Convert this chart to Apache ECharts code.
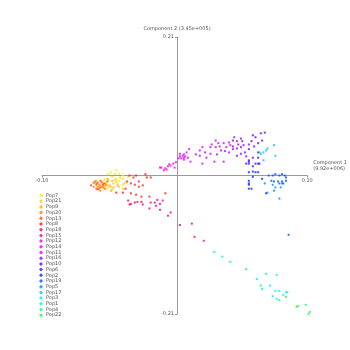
<!DOCTYPE html>
<html><head><meta charset="utf-8">
<script src="https://cdn.jsdelivr.net/npm/echarts@6/dist/echarts.min.js"></script>
<style>html,body{margin:0;padding:0;background:#fff}#c{width:350px;height:350px}</style>
</head><body><div id="c"></div>
<script>
const popNames = ['Pop7','Pop21','Pop9','Pop20','Pop13','Pop8','Pop18','Pop15','Pop12','Pop14','Pop11','Pop16','Pop10','Pop6','Pop2','Pop19','Pop5','Pop17','Pop3','Pop1','Pop4','Pop22'];
const popColors = ['#ffee00','#ffcc00','#ffaa00','#ff7a00','#ff4a00','#ff1a1a','#ff0055','#ff0099','#ff00dd','#e600ff','#cc00ff','#9900ff','#6a00ff','#3a10ff','#0a28ff','#0055ff','#0088ff','#00c0ff','#00f0ff','#00ffcc','#00ff99','#22ff44'];
const xTicks = [-0.10, 0.10];
const yTicks = [-0.21, 0.21];

const Pop7 = [[-0.048,0.005],[-0.045,0.002],[-0.042,0.003],[-0.039,0],[-0.044,-0.005],[-0.042,-0.008],[-0.039,-0.005],[-0.047,-0.002],[-0.050,0.002],[-0.036,-0.011],[-0.043,-0.012],[-0.039,-0.014],[-0.051,-0.005],[-0.044,0.008],[-0.035,-0.002]];
const Pop21 = [[-0.053,-0.006],[-0.050,-0.009],[-0.046,-0.012],[-0.042,-0.017],[-0.048,-0.017],[-0.051,-0.014],[-0.044,-0.009],[-0.039,-0.020],[-0.047,-0.021],[-0.054,-0.012],[-0.041,-0.003],[-0.045,-0.006],[-0.038,-0.012],[-0.050,-0.018],[-0.053,-0.017]];
const Pop9 = [[-0.055,-0.009],[-0.052,-0.012],[-0.049,-0.015],[-0.047,-0.008],[-0.050,-0.006],[-0.057,-0.014],[-0.046,-0.018],[-0.052,-0.020],[-0.043,-0.015],[-0.055,-0.018],[-0.048,-0.023],[-0.059,-0.008]];
const Pop20 = [[-0.059,-0.012],[-0.056,-0.015],[-0.054,-0.017],[-0.057,-0.020],[-0.060,-0.009],[-0.055,-0.011],[-0.052,-0.015],[-0.058,-0.017],[-0.056,-0.023],[-0.053,-0.020],[-0.061,-0.017],[-0.051,-0.009]];
const Pop13 = [[-0.063,-0.015],[-0.059,-0.014],[-0.058,-0.011],[-0.056,-0.018],[-0.059,-0.020],[-0.054,-0.014],[-0.058,-0.021],[-0.061,-0.011],[-0.053,-0.012],[-0.056,-0.008]];
const Pop8 = [[-0.034,0],[-0.031,-0.003],[-0.029,0],[-0.033,-0.012],[-0.027,-0.009],[-0.027,-0.017],[-0.022,0.002],[-0.021,-0.003],[-0.037,-0.020],[-0.039,-0.026],[-0.044,-0.026],[-0.033,-0.027],[-0.029,-0.029],[-0.025,-0.032],[-0.019,-0.032],[-0.007,-0.027],[-0.030,-0.014],[-0.024,-0.015],[-0.036,-0.009],[-0.018,-0.003]];
const Pop18 = [[-0.035,-0.038],[-0.030,-0.041],[-0.033,-0.043],[-0.028,-0.040],[-0.025,-0.040],[-0.034,-0.044],[-0.024,-0.044],[-0.018,-0.041],[-0.015,-0.041],[-0.005,-0.061],[-0.003,-0.056],[0.004,-0.075],[0.013,-0.073],[-0.019,-0.050],[-0.013,-0.037]];
const Pop15 = [[-0.011,-0.043],[-0.014,-0.046],[-0.011,-0.052],[0.015,-0.093],[0.022,-0.099],[-0.009,-0.038]];
const Pop12 = [[-0.011,0.012],[-0.010,0.012],[-0.006,0.009],[-0.003,0.015],[-0.005,0.014],[0,0.012],[-0.001,0.018],[-0.008,0.008],[-0.004,0.017],[-0.007,0.011]];
const Pop14 = [[0.004,0.033],[0.006,0.030],[0.007,0.032],[0.008,0.029],[0.007,0.027],[0.005,0.026],[0.001,0.020],[0.007,0.024],[0.011,0.040],[0.012,0.021],[0.009,0.035],[0.003,0.026],[0.010,0.027],[0.004,0.029]];
const Pop11 = [[0.019,0.038],[0.019,0.030],[0.021,0.018],[0.023,0.035],[0.027,0.043],[0.028,0.047],[0.027,0.033],[0.031,0.043],[0.030,0.021],[0.033,0.049],[0.034,0.044],[0.032,0.032],[0.037,0.049],[0.039,0.043],[0.041,0.050],[0.042,0.046],[0.038,0.037],[0.041,0.035],[0.037,0.021],[0.024,0.027],[0.016,0.032],[0.035,0.038],[0.044,0.040],[0.031,0.053],[0.021,0.043]];
const Pop16 = [[0.045,0.058],[0.047,0.052],[0.050,0.056],[0.048,0.047],[0.044,0.044],[0.047,0.041],[0.050,0.043],[0.052,0.046],[0.056,0.047],[0.050,0.033],[0.047,0.030],[0.053,0.035],[0.054,0.029],[0.044,0.053],[0.051,0.052]];
const Pop10 = [[0.059,0.061],[0.061,0.058],[0.065,0.064],[0.068,0.065],[0.063,0.049],[0.056,0.040],[0.056,0.023],[0.063,0.035],[0.059,0.027],[0.058,0.052],[0.066,0.053],[0.060,0.044]];
const Pop6 = [[0.054,0.018],[0.056,0.018],[0.061,0.018],[0.064,0.018],[0.063,0.027],[0.056,0.021],[0.063,0.018],[0.059,0.014]];
const Pop2 = [[0.059,0.006],[0.061,0.005],[0.056,-0.008],[0.056,-0.012],[0.058,-0.020],[0.056,0.005],[0.059,-0.002],[0.063,0.005],[0.056,-0.014],[0.056,-0.020],[0.069,-0.027],[0.066,-0.005]];
const Pop19 = [[0.071,0],[0.074,0],[0.076,0.002],[0.079,0],[0.081,0.002],[0.083,0],[0.084,-0.003],[0.075,-0.009],[0.078,-0.009],[0.079,-0.012],[0.081,-0.009],[0.082,-0.012],[0.084,-0.008],[0.086,-0.090],[0.073,-0.008]];
const Pop5 = [[0.076,-0.018],[0.080,-0.018],[0.081,-0.012],[0.079,-0.035],[0.068,-0.012],[0.074,-0.014],[0.070,-0.026],[0.075,-0.023]];
const Pop17 = [[0.064,0.035],[0.065,0.033],[0.067,0.035],[0.070,0.041],[0.075,0.046],[0.067,0.023],[0.076,0.030],[0.069,0.038]];
const Pop3 = [[0.077,-0.151],[0.062,-0.157],[0.066,-0.172],[0.072,-0.167],[0.079,-0.175],[0.084,-0.177],[0.085,-0.177],[0.074,-0.183],[0.077,-0.187]];
const Pop1 = [[0.079,-0.189],[0.082,-0.181],[0.076,-0.175]];
const Pop4 = [[0.030,-0.116],[0.036,-0.123],[0.042,-0.131],[0.054,-0.142],[0.069,-0.149],[0.065,-0.167]];
const Pop22 = [[0.084,-0.184],[0.093,-0.198],[0.092,-0.199],[0.099,-0.196],[0.102,-0.207],[0.101,-0.210]];

const popData = [Pop7,Pop21,Pop9,Pop20,Pop13,Pop8,Pop18,Pop15,Pop12,Pop14,Pop11,Pop16,Pop10,Pop6,Pop2,Pop19,Pop5,Pop17,Pop3,Pop1,Pop4,Pop22];

const gridL = 42, gridR = 38, gridT = 37, gridB = 36;
const W = 350, H = 350;
const gw = W - gridL - gridR, gh = H - gridT - gridB;
const xMin = -0.10, xMax = 0.10, yMin = -0.21, yMax = 0.21;
// offsets so the axes pass through zero
const yAxisOffset = -gw * (0 - xMin) / (xMax - xMin);
const xAxisOffset = -gh * (0 - yMin) / (yMax - yMin);

const chart = echarts.init(document.getElementById('c'), null, {renderer:'canvas'});
const lbl = {color:'#555', fontSize:5, fontFamily:'DejaVu Sans', formatter:v=>v.toFixed(2), margin:3};
chart.setOption({
  animation:false,
  backgroundColor:'#fff',
  grid:{left:gridL, right:gridR, top:gridT, bottom:gridB},
  xAxis:{
    type:'value', min:xMin, max:xMax, position:'bottom', offset:xAxisOffset,
    axisLine:{onZero:false, lineStyle:{color:'#999', width:1}},
    splitLine:{show:false},
    name:'Component 1\n(9.92e+006)', nameLocation:'end', nameGap:6,
    nameTextStyle:{color:'#555', fontSize:5, fontFamily:'DejaVu Sans', align:'left', verticalAlign:'bottom', lineHeight:6, padding:[0,0,4,0]},
    axisTick:{show:true, length:2, lineStyle:{color:'#999'}, customValues:xTicks},
    axisLabel:Object.assign({}, lbl, {customValues:xTicks})
  },
  yAxis:{
    type:'value', min:yMin, max:yMax, position:'left', offset:yAxisOffset,
    axisLine:{onZero:false, lineStyle:{color:'#999', width:1}},
    splitLine:{show:false},
    name:'Component 2 (3.45e+005)', nameLocation:'end', nameGap:6,
    nameTextStyle:{color:'#555', fontSize:5, fontFamily:'DejaVu Sans', align:'center'},
    axisTick:{show:true, length:2, lineStyle:{color:'#999'}, customValues:yTicks},
    axisLabel:Object.assign({}, lbl, {customValues:yTicks})
  },
  legend:{
    orient:'vertical', left:34, top:188, itemWidth:4, itemHeight:4, itemGap:0.7,
    icon:'diamond',
    textStyle:{color:'#555', fontSize:5, lineHeight:5, fontFamily:'DejaVu Sans', padding:[0,0,0,-2]},
    data:popNames
  },
  series: popNames.map((n,i)=>({
    name:n, type:'scatter', data:popData[i], symbol:'rect', symbolSize:2, clip:false,
    itemStyle:{color:popColors[i]}
  }))
});
</script></body></html>
